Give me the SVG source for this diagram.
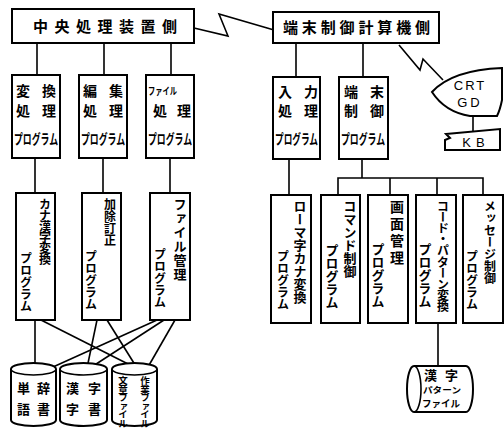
<svg xmlns="http://www.w3.org/2000/svg" width="504" height="430" viewBox="0 0 504 430">
<style>
  .box { fill: #fff; stroke: #000; stroke-width: 2; }
  .ln { fill: none; stroke: #000; stroke-width: 1.6; }
  text { font-family: "Noto Sans CJK JP", "Noto Sans", sans-serif; font-weight: 700; fill: #000; }
  .h15 { font-size: 15px; }
  .h14 { font-size: 14px; }
  .h10 { font-size: 10px; }
  .lat { font-family: "Liberation Sans", "DejaVu Sans", sans-serif; font-weight: 400; font-size: 13px; }
  .v { writing-mode: vertical-rl; font-size: 12px; }
  .c13 { font-size: 13px; }
</style>
<rect width="504" height="430" fill="#fff"/>

<g id="connectors">
  <polyline class="ln" points="194,28 228,36 219,14 274,30"/>
  <polyline class="ln" points="399,45 420,70 423,59 443,80"/>
  <line class="ln" x1="37" y1="43" x2="37" y2="75"/>
  <line class="ln" x1="104" y1="43" x2="104" y2="75"/>
  <line class="ln" x1="171" y1="43" x2="171" y2="75"/>
  <line class="ln" x1="35" y1="158" x2="35" y2="193"/>
  <line class="ln" x1="103" y1="158" x2="103" y2="193"/>
  <line class="ln" x1="170" y1="158" x2="170" y2="193"/>
  <line class="ln" x1="296" y1="43" x2="296" y2="77"/>
  <line class="ln" x1="363" y1="43" x2="363" y2="77"/>
  <line class="ln" x1="289" y1="159" x2="289" y2="195"/>
  <line class="ln" x1="362" y1="159" x2="362" y2="178"/>
  <polyline class="ln" points="338,195 338,178 483,178 483,195"/>
  <line class="ln" x1="390" y1="178" x2="390" y2="195"/>
  <line class="ln" x1="437" y1="178" x2="437" y2="195"/>
  <line class="ln" x1="438" y1="323" x2="438" y2="366"/>
  <line class="ln" x1="473" y1="116" x2="473" y2="131"/>
  <line class="ln" x1="35" y1="320" x2="35" y2="368"/>
  <line class="ln" x1="41" y1="320" x2="136" y2="368"/>
  <line class="ln" x1="97" y1="320" x2="87" y2="368"/>
  <line class="ln" x1="107" y1="320" x2="137" y2="368"/>
  <line class="ln" x1="157" y1="320" x2="53" y2="367"/>
  <line class="ln" x1="164" y1="320" x2="90" y2="368"/>
  <line class="ln" x1="175" y1="320" x2="148" y2="367"/>
</g>

<g id="central">
  <rect class="box" x="12" y="9" width="182" height="34"/>
  <text class="h15" x="33" y="32" textLength="144" lengthAdjust="spacing">中央処理装置側</text>
</g>
<g id="terminal">
  <rect class="box" x="273" y="12" width="166" height="31"/>
  <text class="h15" x="283" y="33" textLength="147" lengthAdjust="spacing">端末制御計算機側</text>
</g>

<g id="conv">
  <rect class="box" x="12" y="75" width="48" height="83"/>
  <text class="h14" x="16" y="96" textLength="40" lengthAdjust="spacing">変換</text>
  <text class="h14" x="16" y="116" textLength="40" lengthAdjust="spacing">処理</text>
  <text class="h14" x="14" y="144" textLength="44" lengthAdjust="spacingAndGlyphs">プログラム</text>
</g>
<g id="edit">
  <rect class="box" x="79" y="75" width="48" height="83"/>
  <text class="h14" x="83" y="96" textLength="40" lengthAdjust="spacing">編集</text>
  <text class="h14" x="83" y="116" textLength="40" lengthAdjust="spacing">処理</text>
  <text class="h14" x="81" y="144" textLength="44" lengthAdjust="spacingAndGlyphs">プログラム</text>
</g>
<g id="file">
  <rect class="box" x="146" y="75" width="48" height="83"/>
  <text class="h10" x="148" y="95" textLength="29" lengthAdjust="spacingAndGlyphs">ファイル</text>
  <text class="h14" x="153" y="116" textLength="38" lengthAdjust="spacing">処理</text>
  <text class="h14" x="148" y="144" textLength="44" lengthAdjust="spacingAndGlyphs">プログラム</text>
</g>

<g id="input">
  <rect class="box" x="273" y="77" width="47" height="82"/>
  <text class="h14" x="278" y="97" textLength="40" lengthAdjust="spacing">入力</text>
  <text class="h14" x="278" y="116" textLength="40" lengthAdjust="spacing">処理</text>
  <text class="h14" x="275" y="144" textLength="43" lengthAdjust="spacingAndGlyphs">プログラム</text>
</g>
<g id="termctl">
  <rect class="box" x="339" y="77" width="49" height="82"/>
  <text class="h14" x="344" y="97" textLength="40" lengthAdjust="spacing">端末</text>
  <text class="h14" x="344" y="116" textLength="40" lengthAdjust="spacing">制御</text>
  <text class="h14" x="341" y="144" textLength="44" lengthAdjust="spacingAndGlyphs">プログラム</text>
</g>

<g id="crt">
  <path class="box" d="M432,92 Q452,70 502,68 L502,100 Q500,110 497,116 L470,116 Q445,112 432,92 Z"/>
  <text class="lat" x="470" y="90" text-anchor="middle" letter-spacing="2">CRT</text>
  <text class="lat" x="470" y="107" text-anchor="middle" letter-spacing="3">GD</text>
</g>
<g id="kb">
  <polygon class="box" points="446,134 500,129 500,150 445,150 445,140 450,138"/>
  <text class="lat" x="476" y="147" text-anchor="middle" letter-spacing="5">KB</text>
</g>

<g id="kana">
  <rect class="box" x="16" y="193" width="39" height="127"/>
  <text class="v" x="45" y="198" letter-spacing="-1">カナ漢字変換</text>
  <text class="v" x="26" y="252">プログラム</text>
</g>
<g id="correct">
  <rect class="box" x="82" y="193" width="39" height="127"/>
  <text class="v" x="110" y="198">加除訂正</text>
  <text class="v" x="91" y="250">プログラム</text>
</g>
<g id="filemgr">
  <rect class="box" x="150" y="193" width="40" height="127"/>
  <text class="v" x="180" y="198" style="font-size:13px" letter-spacing="1">ファイル管理</text>
  <text class="v" x="160" y="248">プログラム</text>
</g>

<g id="romaji">
  <rect class="box" x="271" y="195" width="40" height="128"/>
  <text class="v" x="300" y="200" style="font-size:13px">ローマ字カナ変換</text>
  <text class="v" x="283" y="250">プログラム</text>
</g>
<g id="command">
  <rect class="box" x="321" y="195" width="39" height="128"/>
  <text class="v" x="350" y="200" style="font-size:13px">コマンド制御</text>
  <text class="v" x="332" y="244" style="font-size:13px">プログラム</text>
</g>
<g id="screen">
  <rect class="box" x="368" y="195" width="40" height="128"/>
  <text class="v" x="397" y="200" style="font-size:14px" letter-spacing="3">画面管理</text>
  <text class="v" x="378" y="243" style="font-size:13px">プログラム</text>
</g>
<g id="codepat">
  <rect class="box" x="416" y="195" width="40" height="128"/>
  <text class="v" x="443" y="200" letter-spacing="-0.8">コード・パターン変換</text>
  <text class="v" x="425" y="243" style="font-size:13px">プログラム</text>
</g>
<g id="message">
  <rect class="box" x="463" y="195" width="40" height="128"/>
  <text class="v" x="490" y="200">メッセージ制御</text>
  <text class="v" x="472" y="250">プログラム</text>
</g>

<g id="dict-word">
  <path class="box" d="M11,369 A22.5,6 0 0 1 56,369 L56,420 A22.5,6 0 0 1 11,420 Z"/>
  <path class="ln" d="M11,369 A22.5,6 0 0 0 56,369" stroke-width="2"/>
  <text class="c13" x="17" y="393">単</text>
  <text class="c13" x="37" y="393">辞</text>
  <text class="c13" x="17" y="414">語</text>
  <text class="c13" x="37" y="414">書</text>
</g>
<g id="dict-kanji">
  <path class="box" d="M60,369 A23.5,6 0 0 1 107,369 L107,420 A23.5,6 0 0 1 60,420 Z"/>
  <path class="ln" d="M60,369 A23.5,6 0 0 0 107,369" stroke-width="2"/>
  <text class="c13" x="66" y="393">漢</text>
  <text class="c13" x="88" y="393">字</text>
  <text class="c13" x="66" y="414">字</text>
  <text class="c13" x="88" y="414">書</text>
</g>
<g id="workfile">
  <path class="box" d="M112,369 A22.5,6 0 0 1 157,369 L157,420 A22.5,6 0 0 1 112,420 Z"/>
  <path class="ln" d="M112,369 A22.5,6 0 0 0 157,369" stroke-width="2"/>
  <text class="v" x="123" y="376" style="font-size:9.5px" letter-spacing="-1">文章ファイル</text>
  <text class="v" x="145" y="376" style="font-size:9.5px" letter-spacing="-1">作業ファイル</text>
</g>

<g id="kanjipattern">
  <path class="box" d="M414,366 L466,366 A7,23 0 0 1 466,412 L414,412 A7,23 0 0 1 414,366 Z"/>
  <path class="ln" d="M414,366 A7,23 0 0 1 414,412" stroke-width="2"/>
  <text class="c13" x="424" y="380" textLength="34" lengthAdjust="spacing">漢字</text>
  <text x="423" y="393" style="font-size:8.5px" textLength="38" lengthAdjust="spacingAndGlyphs">パターン</text>
  <text x="422" y="407" style="font-size:9.5px" textLength="38" lengthAdjust="spacingAndGlyphs">ファイル</text>
</g>
</svg>
